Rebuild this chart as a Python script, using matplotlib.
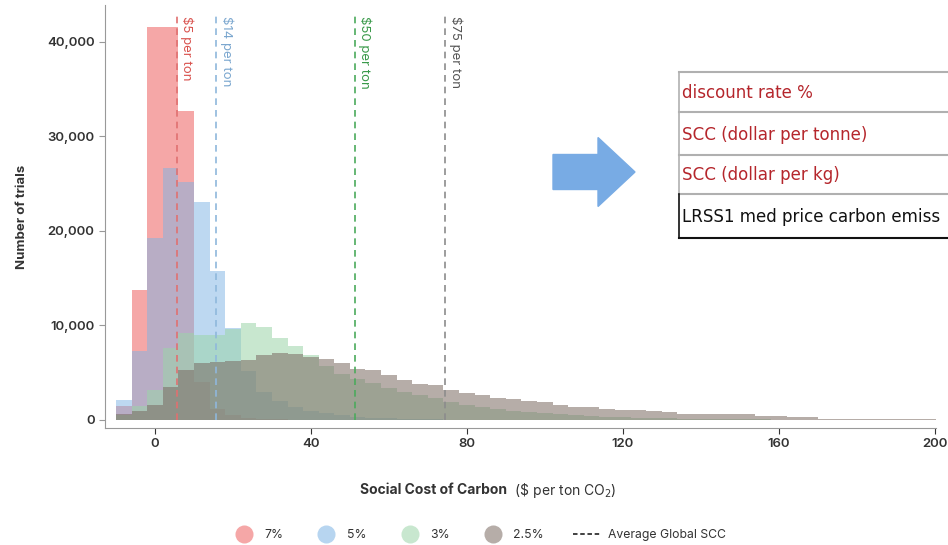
import numpy as np
import matplotlib.pyplot as plt
from matplotlib import font_manager as fm
from matplotlib.lines import Line2D
from matplotlib.patches import FancyArrow
from matplotlib.ticker import FuncFormatter

# histogram bins ($ per ton CO2), width 4 starting at -10
bin_left = np.arange(-10, 202, 4)
bin_width = 4

# trial counts per bin
red_7 = [1500, 13700, 41600, 41600, 32700, 4000, 1200, 500, 250, 120, 60]
blue_5 = [2100, 7300, 19300, 26700, 25200, 23100, 15800, 9700, 5200, 3000, 2000,
          1400, 1000, 700, 500, 350, 250, 180, 130, 90, 60, 40]
green_3 = [500, 1500, 3200, 7600, 9200, 9000, 9000, 9600, 10300, 9800, 8700, 7800,
           6900, 5700, 4900, 4300, 3900, 3400, 3000, 2600, 2300, 1900, 1600, 1400,
           1200, 1000, 850, 700, 600, 500, 420, 350, 300, 250, 200, 170, 140, 120,
           100, 80, 60, 50, 40, 30]
gray_25 = [600, 1000, 1600, 3500, 5300, 6000, 6100, 6200, 6300, 6900, 7100, 7000,
           6700, 6500, 6000, 5400, 5300, 4800, 4200, 3800, 3700, 3200, 2900, 2600,
           2300, 2200, 2000, 1850, 1600, 1400, 1350, 1150, 1100, 1050, 900, 850,
           650, 640, 620, 600, 580, 400, 370, 350, 330, 110, 100, 100, 90, 90, 80,
           80, 80]

series_labels = ['7%', '5%', '3%', '2.5%']
series_values = [red_7, blue_5, green_3, gray_25]
series_colors = ['#ee5f5f', '#7cb3e4', '#9bd5a8', '#7a6a62']
series_alpha = [0.55, 0.5, 0.55, 0.55]

# average global SCC lines
avg_scc = [5.6, 15.7, 51.3, 74.4]
avg_labels = ['$5 per ton', '$14 per ton', '$50 per ton', '$75 per ton']
avg_line_colors = ['#e07070', '#8fb8dc', '#4caa5c', '#8c8c8c']
avg_text_colors = ['#d9534f', '#7ba7cf', '#3a9a4a', '#555555']

# spreadsheet excerpt shown on the right (last row is cut by the image edge)
table_rows = ['discount rate %', 'SCC (dollar per tonne)', 'SCC (dollar per kg)',
              'LRSS1 med price carbon emiss']
table_colors = ['#b5262c', '#b5262c', '#b5262c', '#111111']

W, H = 948, 545
plt.rcParams['font.family'] = ['Inter', 'DejaVu Sans']

# narrow font for the spreadsheet cells
names = {f.name for f in fm.fontManager.ttflist}
if 'Liberation Sans Narrow' in names:
    cell_font = dict(family='Liberation Sans Narrow', fontsize=15.5)
else:
    cell_font = dict(family='DejaVu Sans', stretch='condensed', fontsize=13.3)

fig = plt.figure(figsize=(W / 100, H / 100), dpi=100)
ax = fig.add_axes([105 / W, 1 - 428 / H, (936 - 105) / W, (428 - 5) / H])


def px(x, y):
    return x / W, 1 - y / H


for vals, col, a in zip(series_values, series_colors, series_alpha):
    ax.bar(bin_left[:len(vals)], vals, width=bin_width, align='edge',
           color=col, alpha=a, linewidth=0)

for x, lab, lc, tc in zip(avg_scc, avg_labels, avg_line_colors, avg_text_colors):
    ax.vlines(x, 0, 43000, colors=lc, linestyles=(0, (4, 3)), linewidth=1.2)
    ax.text(x + 0.9, 42700, lab, rotation=270, ha='left', va='top',
            fontsize=9.5, color=tc)

ax.set_xlim(-12.8, 200.3)
ax.set_ylim(-850, 43900)
ax.set_xticks([0, 40, 80, 120, 160, 200])
ax.set_yticks([0, 10000, 20000, 30000, 40000])
ax.yaxis.set_major_formatter(FuncFormatter(lambda v, p: f'{int(v):,}'))
for side in ['top', 'right']:
    ax.spines[side].set_visible(False)
for side in ['left', 'bottom']:
    ax.spines[side].set_color('#999999')
ax.tick_params(axis='both', labelsize=9.5, colors='#333333', length=4)
ax.tick_params(axis='y', color='#999999')
for lab in ax.get_xticklabels() + ax.get_yticklabels():
    lab.set_fontweight('semibold')

ax.set_ylabel('Number of trials', fontsize=9.5, fontweight='bold',
              color='#333333', labelpad=14)
t1 = fig.text(*px(360, 490), 'Social Cost of Carbon', fontsize=10,
              fontweight='bold', color='#333333', va='center', ha='left')
ax.annotate(r' (\$ per ton CO$_2$)', xy=(1, 0.5), xycoords=t1,
            xytext=(3, 0), textcoords='offset points', fontsize=10,
            color='#333333', va='center', ha='left', annotation_clip=False)

handles = [Line2D([], [], marker='o', linestyle='none', markersize=13,
                  markerfacecolor=c, markeredgecolor='none', alpha=0.55)
           for c in series_colors]
handles.append(Line2D([], [], color='#333333', linestyle=(0, (2.5, 1.5)), linewidth=1.3))
fig.legend(handles, series_labels + ['Average Global SCC'], loc='center',
           bbox_to_anchor=px(478, 535), ncol=5, frameon=False, fontsize=8.8,
           columnspacing=2.4, handletextpad=0.6, handlelength=2.2,
           labelcolor='#333333')

# blue block arrow
fig.add_artist(FancyArrow(553 / W, 1 - 172 / H, 82 / W, 0, width=35 / H,
                          head_width=69 / H, head_length=37 / W,
                          length_includes_head=True, color='#78abe4',
                          transform=fig.transFigure))

# table excerpt on the right
row_edges = [72, 112, 155, 194, 238]
for i, (txt, tc) in enumerate(zip(table_rows, table_colors)):
    top, bot = row_edges[i], row_edges[i + 1]
    edge = '#111111' if i == 3 else '#b0b0b0'
    fig.add_artist(Line2D([679 / W, 679 / W], [1 - top / H, 1 - bot / H],
                          color=edge, linewidth=1.2, transform=fig.transFigure))
    fig.add_artist(Line2D([679 / W, 1], [1 - bot / H, 1 - bot / H],
                          color=edge, linewidth=1.5, transform=fig.transFigure))
    fig.text(*px(682, (top + bot) / 2 + 1), txt, color=tc,
             va='center', ha='left', **cell_font)
fig.add_artist(Line2D([679 / W, 1], [1 - 72 / H, 1 - 72 / H], color='#b0b0b0',
                      linewidth=1.5, transform=fig.transFigure))

fig.savefig('out.png', dpi=100)
